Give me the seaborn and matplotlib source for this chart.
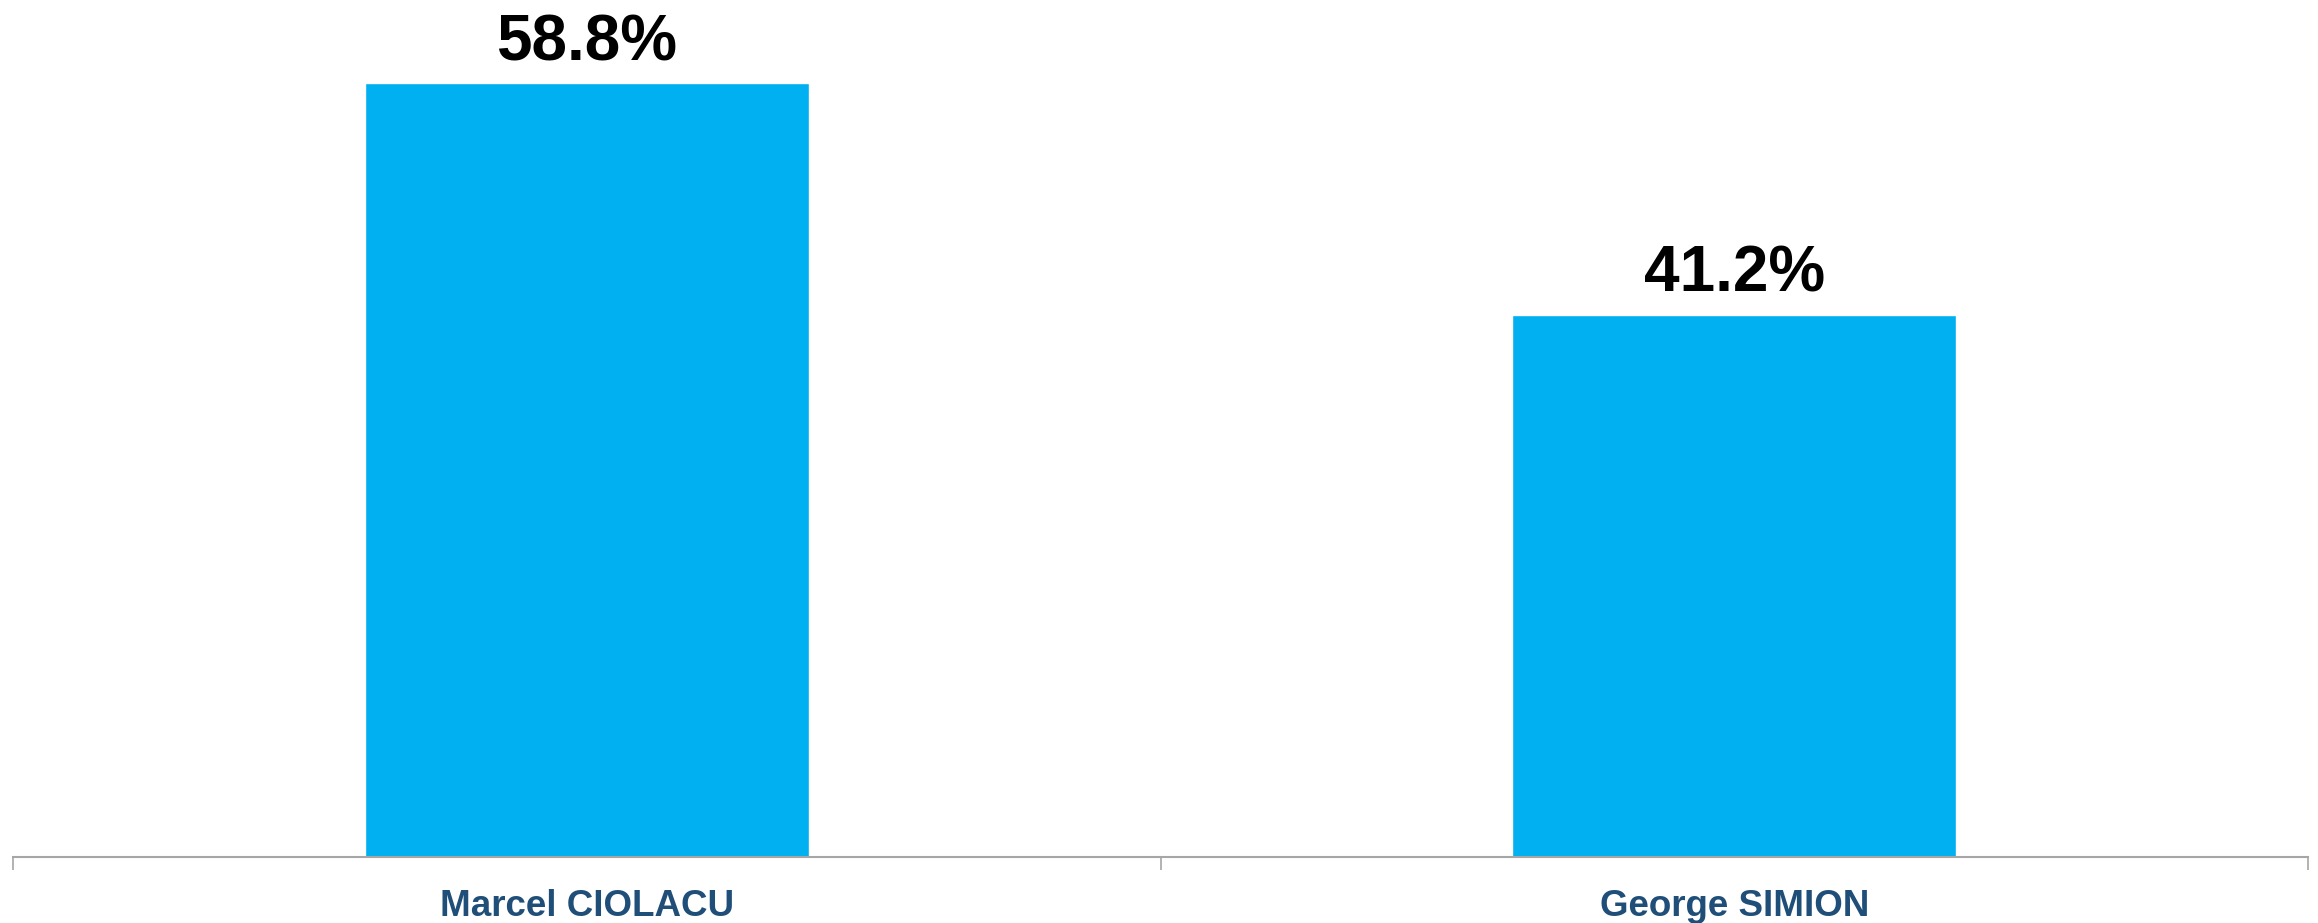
import matplotlib
matplotlib.use("Agg")
import matplotlib.pyplot as plt
import seaborn as sns
import pandas as pd

categories = ["Marcel CIOLACU", "George SIMION"]
values = [58.8, 41.2]
value_labels = ["58.8%", "41.2%"]

sns.set_theme(style="white")
plt.rcParams['font.family'] = ['Liberation Sans', 'DejaVu Sans']

df = pd.DataFrame({"candidate": categories, "share": values})

fig = plt.figure(figsize=(23.18, 9.23), dpi=100)
ax = fig.add_axes([13/2318, 1 - 857/923, (2308 - 13)/2318, 857/923])

sns.barplot(data=df, x="candidate", y="share", color="#00B0F0", saturation=1,
            width=0.387, ax=ax)

ax.set_xlim(-0.5, 1.5)
ax.set_ylim(0, 65.1)
ax.set_xlabel("")
ax.set_ylabel("")
ax.set_yticks([])
for s in ["top", "right", "left"]:
    ax.spines[s].set_visible(False)
ax.spines["bottom"].set_color("#A6A6A6")
ax.spines["bottom"].set_linewidth(1.5)

ax.set_xticks([0, 1])
ax.set_xticklabels(categories, fontsize=26.5, fontweight="bold", color="#1F4E79")
ax.tick_params(axis="x", which="major", length=0, pad=23)
ax.set_xticks([-0.5, 0.5, 1.5], minor=True)
ax.tick_params(axis="x", which="minor", length=9, width=1.2, color="#A6A6A6", bottom=True)

for i, (v, lab) in enumerate(zip(values, value_labels)):
    ax.annotate(lab, (i, v), xytext=(0, 7), textcoords="offset points",
                ha="center", va="bottom", fontsize=46, fontweight="bold", color="black",
                annotation_clip=False)

fig.savefig("out.png", dpi=100)
